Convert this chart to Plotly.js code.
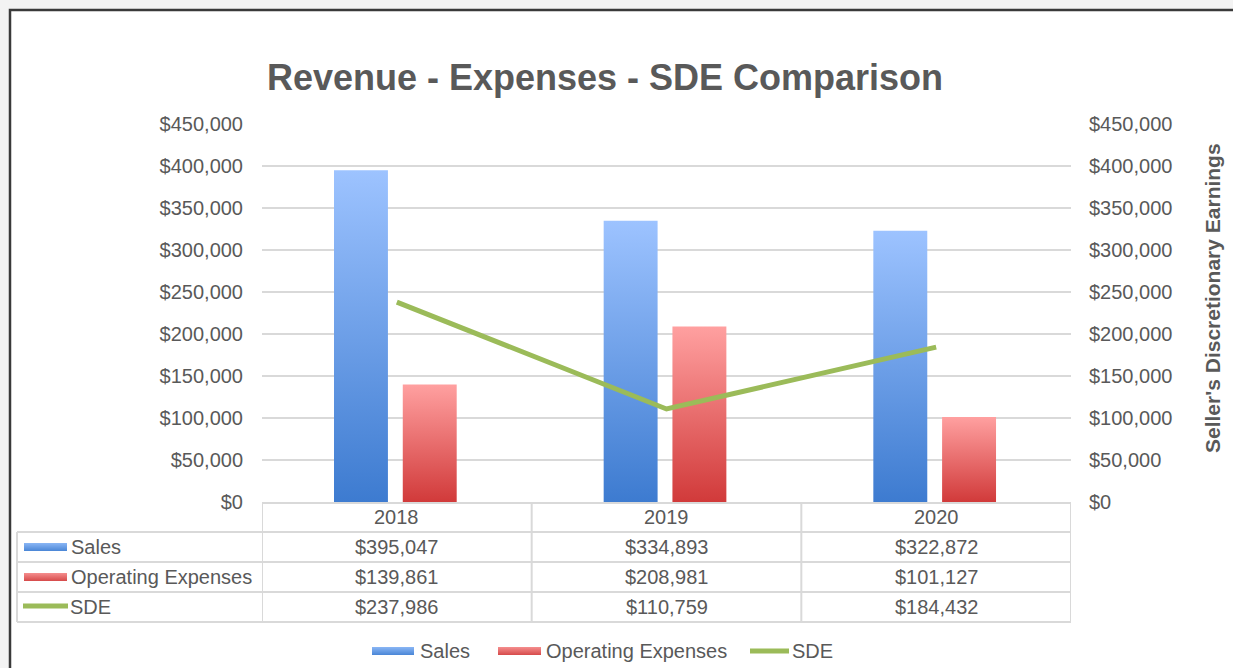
<!DOCTYPE html>
<html><head><meta charset="utf-8">
<script src="https://cdn.plot.ly/plotly-3.0.1.min.js"></script>
<style>html,body{margin:0;padding:0;background:#fff;overflow:hidden}</style>
</head><body><div id="chart" style="width:1233px;height:668px"></div>
<script>
// ---- data ----
const years = ['2018', '2019', '2020'];
const sales = [395047, 334893, 322872];
const opex = [139861, 208981, 101127];
const sde = [237986, 110759, 184432];
const seriesNames = ['Sales', 'Operating Expenses', 'SDE'];
const yTickVals = [0, 50000, 100000, 150000, 200000, 250000, 300000, 350000, 400000, 450000];
const chartTitle = 'Revenue - Expenses - SDE Comparison';
const y2Title = "Seller's Discretionary Earnings";

// ---- layout helpers (pixel geometry of plot area) ----
const W = 1233, H = 668, L = 262, R = 1071, T = 124, B = 502;
const px = x => (x - L) / (R - L);
const py = y => (B - y) / (B - T);
const FONT = 'Liberation Sans, Arial, sans-serif';
const TXT = '#595959';
const GRID = '#d9d9d9';
const C_SALES = 'rgb(108, 158, 230)', C_OPEX = 'rgb(230, 106, 106)', C_SDE = '#9bbb59';
const fmt = v => '$' + v.toLocaleString('en-US');
const yTickText = yTickVals.map(fmt);

const data = [
  {type: 'bar', x: years, y: sales, name: seriesNames[0], width: 0.2, offset: -0.233,
   marker: {color: C_SALES, line: {width: 0}}, hoverinfo: 'skip'},
  {type: 'bar', x: years, y: opex, name: seriesNames[1], width: 0.2, offset: 0.022,
   marker: {color: C_OPEX, line: {width: 0}}, hoverinfo: 'skip'},
  {type: 'scatter', mode: 'lines', x: years, y: sde, name: seriesNames[2], yaxis: 'y2',
   line: {color: C_SDE, width: 5}, hoverinfo: 'skip'}
];

const shapes = [];
const annotations = [];
// outer frame
shapes.push({type: 'rect', xref: 'paper', yref: 'paper', layer: 'below',
  x0: px(10), x1: px(1300), y0: py(10), y1: py(720),
  line: {color: '#3a3a3a', width: 2.5}, fillcolor: '#ffffff'});

// data table
const rowY = [517, 547, 577, 607];           // text centers: header, rows
const lineY = [503, 532, 562, 592, 622];     // horizontal borders
shapes.push({type: 'line', xref: 'x', yref: 'paper', x0: -0.5, x1: 2.5, y0: py(lineY[0]), y1: py(lineY[0]), line: {color: GRID, width: 2}});
for (let i = 1; i < lineY.length; i++) {
  shapes.push({type: 'line', xref: 'paper', yref: 'paper', x0: px(17), x1: 1, y0: py(lineY[i]), y1: py(lineY[i]), line: {color: GRID, width: 2}});
}
for (let k = 0; k <= years.length; k++) {
  shapes.push({type: 'line', xref: 'x', yref: 'paper', x0: k - 0.5, x1: k - 0.5, y0: py(lineY[0]), y1: py(lineY[4]), line: {color: GRID, width: 2}});
}
shapes.push({type: 'line', xref: 'paper', yref: 'paper', x0: px(17), x1: px(17), y0: py(lineY[1]), y1: py(lineY[4]), line: {color: GRID, width: 2}});

const tf = {family: FONT, size: 20, color: TXT};
years.forEach((yr, i) => {
  annotations.push({xref: 'x', yref: 'paper', x: i, y: py(rowY[0]), text: yr, showarrow: false, font: tf, xanchor: 'center', yanchor: 'middle'});
});
const rows = [sales, opex, sde];
rows.forEach((arr, r) => {
  arr.forEach((v, i) => {
    annotations.push({xref: 'x', yref: 'paper', x: i, y: py(rowY[r + 1]), text: fmt(v), showarrow: false, font: tf, xanchor: 'center', yanchor: 'middle'});
  });
  annotations.push({xref: 'paper', yref: 'paper', x: px(r === 2 ? 68 : 69), y: py(rowY[r + 1]), text: seriesNames[r], showarrow: false, font: tf, xanchor: 'left', yanchor: 'middle'});
});
// table swatches
shapes.push({type: 'rect', xref: 'paper', yref: 'paper', x0: px(24), x1: px(67), y0: py(543), y1: py(551), fillcolor: C_SALES, line: {width: 0}});
shapes.push({type: 'rect', xref: 'paper', yref: 'paper', x0: px(24), x1: px(67), y0: py(573), y1: py(581), fillcolor: C_OPEX, line: {width: 0}});
shapes.push({type: 'line', xref: 'paper', yref: 'paper', x0: px(23), x1: px(68), y0: py(606), y1: py(606), line: {color: C_SDE, width: 5}});

// bottom legend
const legY = 651;
shapes.push({type: 'rect', xref: 'paper', yref: 'paper', x0: px(372), x1: px(414), y0: py(legY - 4), y1: py(legY + 4), fillcolor: C_SALES, line: {width: 0}});
shapes.push({type: 'rect', xref: 'paper', yref: 'paper', x0: px(498), x1: px(541), y0: py(legY - 4), y1: py(legY + 4), fillcolor: C_OPEX, line: {width: 0}});
shapes.push({type: 'line', xref: 'paper', yref: 'paper', x0: px(750), x1: px(789), y0: py(legY), y1: py(legY), line: {color: C_SDE, width: 5}});
[[418, 0], [544, 1], [790, 2]].forEach(([x, i]) => {
  annotations.push({xref: 'paper', yref: 'paper', x: px(x), y: py(legY), text: seriesNames[i], showarrow: false, font: tf, xanchor: 'left', yanchor: 'middle'});
});

// right axis title
annotations.push({xref: 'paper', yref: 'paper', x: px(1212), y: py(298), text: y2Title, textangle: -90, showarrow: false,
  font: {family: FONT, size: 21, color: TXT, weight: 'bold'}, xanchor: 'center', yanchor: 'middle'});

const yax = {
  range: [0, 450000], tickmode: 'array', tickvals: yTickVals, ticktext: yTickText,
  tickfont: {family: FONT, size: 20, color: TXT}, showline: false, zeroline: false, ticks: '',
  fixedrange: true
};

const layout = {
  width: W, height: H,
  margin: {l: L, r: W - R, t: T, b: H - B, pad: 0},
  paper_bgcolor: '#f3f3f3', plot_bgcolor: 'rgba(0,0,0,0)',
  font: {family: FONT, color: TXT},
  title: {text: chartTitle, font: {family: FONT, size: 36, color: TXT, weight: 'bold'},
    x: 605 / W, xref: 'container', xanchor: 'center', y: 1 - 77 / H, yref: 'container', yanchor: 'middle'},
  showlegend: false,
  barmode: 'group',
  xaxis: {type: 'category', range: [-0.5, 2.5], showticklabels: false, showgrid: false, zeroline: false, showline: false, ticks: '', fixedrange: true},
  yaxis: Object.assign({}, yax, {showgrid: true, gridcolor: GRID, gridwidth: 2, ticklabelstandoff: 18}),
  yaxis2: Object.assign({}, yax, {overlaying: 'y', side: 'right', showgrid: false, ticklabelstandoff: 17}),
  shapes: shapes,
  annotations: annotations
};

Plotly.newPlot('chart', data, layout, {staticPlot: true, displayModeBar: false}).then(gd => {
  const ns = 'http://www.w3.org/2000/svg';
  const svg = gd.querySelector('.main-svg');
  const defs = document.createElementNS(ns, 'defs');
  svg.insertBefore(defs, svg.firstChild);
  function grad(id, c1, c2) {
    const g = document.createElementNS(ns, 'linearGradient');
    g.setAttribute('id', id);
    g.setAttribute('x1', '0'); g.setAttribute('y1', '0'); g.setAttribute('x2', '0'); g.setAttribute('y2', '1');
    [[0, c1], [1, c2]].forEach(([o, c]) => {
      const s = document.createElementNS(ns, 'stop');
      s.setAttribute('offset', o); s.setAttribute('stop-color', c);
      g.appendChild(s);
    });
    defs.appendChild(g);
  }
  grad('gSales', '#9dc3ff', '#3d7bd0');
  grad('gOpex', '#ffa0a0', '#d13a3a');
  grad('gSalesSw', '#8ab6f5', '#4a86d6');
  grad('gOpexSw', '#f58e8e', '#d64a4a');
  const traces = gd.querySelectorAll('.barlayer .trace');
  if (traces[0]) traces[0].querySelectorAll('path').forEach(p => p.style.fill = 'url(#gSales)');
  if (traces[1]) traces[1].querySelectorAll('path').forEach(p => p.style.fill = 'url(#gOpex)');
  gd.querySelectorAll('.shapelayer path').forEach(p => {
    const f = (p.style.fill || '').replace(/\s/g, '');
    if (f === 'rgb(108,158,230)') p.style.fill = 'url(#gSalesSw)';
    if (f === 'rgb(230,106,106)') p.style.fill = 'url(#gOpexSw)';
  });
});
</script>
</body></html>
